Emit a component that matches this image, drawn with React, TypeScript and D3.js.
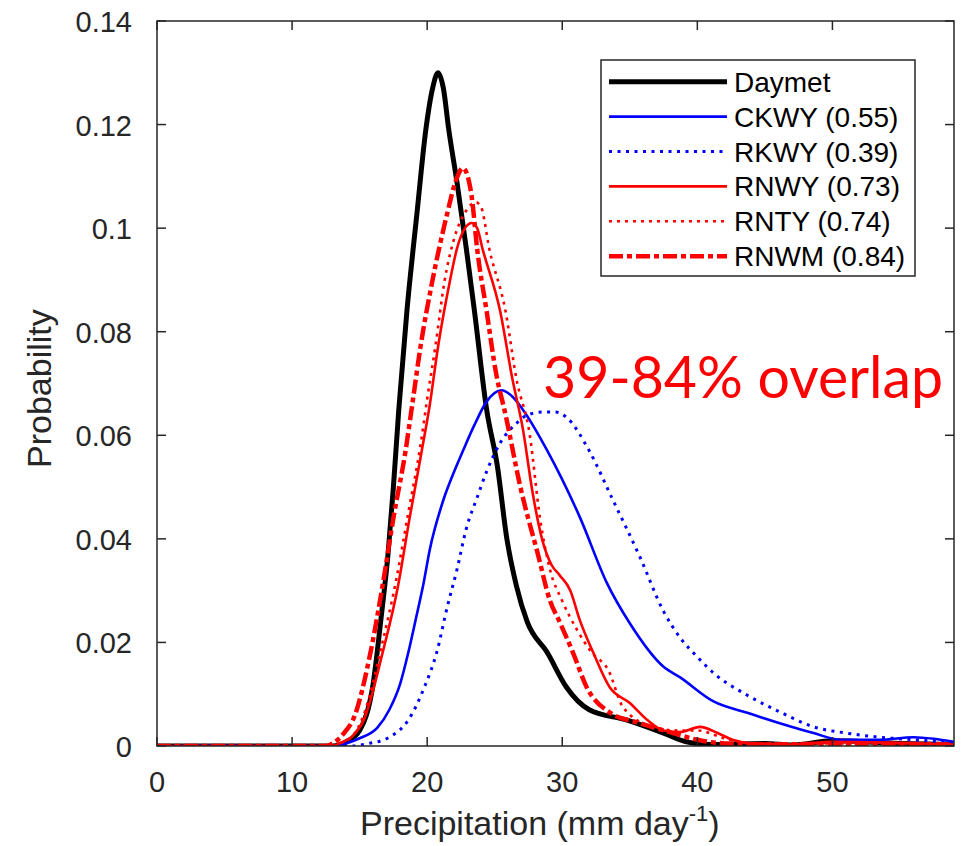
import React, { useEffect, useRef } from 'react';
import * as d3 from 'd3';

// precipitation (mm/day), probability
const daymet: [number, number][] = [
  [0, 0], [10, 0], [13, 0], [14, 0.0008], [15, 0.003], [16, 0.012], [16.6, 0.025], [17.1, 0.037],
  [17.5, 0.05], [17.9, 0.065], [18.5, 0.084], [19.25, 0.103], [19.9, 0.119], [20.4, 0.127],
  [20.8, 0.130], [21.2, 0.127], [21.6, 0.119], [22.2, 0.109], [22.9, 0.096], [23.5, 0.084],
  [24.4, 0.065], [25.2, 0.054], [25.9, 0.040], [26.6, 0.031], [27.4, 0.024], [28.9, 0.018],
  [30.3, 0.0114], [32, 0.007], [34.8, 0.005], [37.5, 0.0025], [39.2, 0.0008], [41, 0.0003],
  [45, 0.0005], [47, 0.0002], [50, 0.001], [55, 0.0005], [59, 0.0003]
];
const ckwy: [number, number][] = [
  [0, 0], [13.3, 0], [14, 0.0005], [15, 0.0015], [16.3, 0.0035], [17.2, 0.007], [18.0, 0.012],
  [18.6, 0.018], [19.2, 0.025], [19.7, 0.031], [20.2, 0.038], [21.2, 0.0475], [22.0, 0.053],
  [22.65, 0.057], [23.5, 0.062], [24.4, 0.0665], [25.5, 0.0687], [26.3, 0.0675], [27.1, 0.0649],
  [28.9, 0.057], [31.3, 0.0442], [33.3, 0.0315], [35, 0.0237], [37.5, 0.0153], [38.7, 0.0133],
  [41.2, 0.0086], [43.7, 0.0064], [46.1, 0.0044], [48.6, 0.0025], [50.6, 0.0012], [53.5, 0.0012],
  [56, 0.0017], [57.5, 0.0014], [59, 0.0008]
];
const rkwy: [number, number][] = [
  [0, 0], [14.5, 0], [15.5, 0.0004], [17.2, 0.0017], [18.6, 0.005], [19.8, 0.0114], [20.7, 0.018],
  [21.5, 0.027], [22.2, 0.034], [22.9, 0.042], [23.7, 0.048], [24.4, 0.053], [25.4, 0.0585],
  [26.6, 0.0623], [27.5, 0.064], [28.6, 0.0645], [29.5, 0.0645], [30.3, 0.0635], [32, 0.057],
  [33.75, 0.0475], [35.75, 0.0365], [37.5, 0.026], [38.7, 0.021], [40, 0.0172], [41.2, 0.0141],
  [43.7, 0.0098], [46.1, 0.0066], [48.6, 0.0037], [51, 0.0025], [53.5, 0.0017], [56, 0.0012],
  [59, 0.0006]
];
const rnwy: [number, number][] = [
  [0, 0], [13, 0], [13.5, 0.0005], [14.5, 0.002], [15.3, 0.005], [16.7, 0.018], [17.85, 0.031],
  [18.7, 0.044], [19.6, 0.057], [20.2, 0.066], [20.8, 0.077], [21.7, 0.090], [22.2, 0.096],
  [22.8, 0.100], [23.3, 0.101], [23.7, 0.100], [24.1, 0.096], [25.4, 0.084], [26.3, 0.071],
  [27.1, 0.061], [27.8, 0.049], [28.5, 0.040], [29.2, 0.035], [29.8, 0.033], [30.6, 0.030],
  [31.3, 0.0243], [32.3, 0.018], [33.5, 0.0114], [35, 0.0083], [36.3, 0.005], [37.5, 0.003],
  [38.7, 0.0027], [40.2, 0.0037], [41.5, 0.0025], [42.6, 0.0012], [44, 0.0005], [47, 0.0003],
  [50, 0.0008], [55, 0.0006], [59, 0.0003]
];
const rnty: [number, number][] = [
  [0, 0], [13, 0], [13.5, 0.0005], [14.5, 0.002], [15.3, 0.006], [16.6, 0.019], [17.7, 0.032],
  [18.6, 0.045], [19.5, 0.058], [20.0, 0.067], [20.6, 0.077], [21.3, 0.090], [22.0, 0.098],
  [22.8, 0.103], [23.6, 0.105], [24.0, 0.104], [24.6, 0.096], [25.8, 0.084], [26.6, 0.071],
  [27.6, 0.060], [28.35, 0.044], [29.1, 0.034], [30.0, 0.028], [31.1, 0.0224], [32.2, 0.018],
  [33.4, 0.0147], [34.5, 0.0075], [36.7, 0.0037], [38.5, 0.003], [40, 0.003], [42, 0.0015],
  [44, 0.0005], [50, 0.0005], [55, 0.0005], [59, 0.0003]
];
const rnwm: [number, number][] = [
  [0, 0], [12.5, 0], [13, 0.0005], [14, 0.003], [14.5, 0.005], [15.8, 0.018], [16.7, 0.031],
  [17.5, 0.044], [18.4, 0.057], [18.9, 0.066], [19.5, 0.077], [20.4, 0.090], [21.5, 0.103],
  [22.1, 0.109], [22.65, 0.1116], [23.0, 0.110], [23.3, 0.106], [23.7, 0.096], [24.4, 0.084],
  [25.1, 0.072], [25.8, 0.064], [26.9, 0.050], [28.2, 0.037], [29.1, 0.028], [29.8, 0.024],
  [30.8, 0.018], [31.8, 0.0114], [33.5, 0.0065], [35.75, 0.0044], [38.2, 0.0025], [40, 0.0012],
  [42, 0.0005], [45, 0.0003], [50, 0.0004], [55, 0.0004], [59, 0.0003]
];

const seriesNames = ['Daymet', 'CKWY (0.55)', 'RKWY (0.39)', 'RNWY (0.73)', 'RNTY (0.74)', 'RNWM (0.84)'];
const seriesData = [daymet, ckwy, rkwy, rnwy, rnty, rnwm];

const xTicks = [0, 10, 20, 30, 40, 50];
const yTicks = [0, 0.02, 0.04, 0.06, 0.08, 0.1, 0.12, 0.14];
const yTickLabels = ['0', '0.02', '0.04', '0.06', '0.08', '0.1', '0.12', '0.14'];

const styles = [
  { color: '#000000', width: 5, dash: null },
  { color: '#0000ff', width: 2.6, dash: null },
  { color: '#0000ff', width: 3, dash: '3,5.5' },
  { color: '#ff0000', width: 2.6, dash: null },
  { color: '#ff0000', width: 2.6, dash: '3,5' },
  { color: '#ff0000', width: 4.5, dash: '14,4,5,4' }
];

const FONT = '"Liberation Sans", Arial, Helvetica, sans-serif';
const AXIS = '#262626';

export default function App() {
  const svgRef = useRef<SVGSVGElement>(null);

  useEffect(() => {
    const svg = d3.select(svgRef.current);
    svg.selectAll('*').remove();

    const left = 157, right = 954, top = 21, bottom = 746;
    const x = d3.scaleLinear().domain([0, 59]).range([left, right]);
    const y = d3.scaleLinear().domain([0, 0.14]).range([bottom, top]);

    svg.append('defs').append('clipPath').attr('id', 'plotclip')
      .append('rect')
      .attr('x', left).attr('y', top - 5)
      .attr('width', right - left).attr('height', bottom - top + 5);

    const line = d3.line<[number, number]>()
      .x(d => x(d[0]))
      .y(d => y(d[1]))
      .curve(d3.curveMonotoneX);

    const plot = svg.append('g').attr('clip-path', 'url(#plotclip)');
    seriesData.forEach((data, i) => {
      const s = styles[i];
      plot.append('path')
        .datum(data)
        .attr('fill', 'none')
        .attr('stroke', s.color)
        .attr('stroke-width', s.width)
        .attr('stroke-linejoin', 'round')
        .attr('stroke-dasharray', s.dash)
        .attr('d', line);
    });

    // box + inward ticks
    svg.append('rect')
      .attr('x', left).attr('y', top)
      .attr('width', right - left).attr('height', bottom - top)
      .attr('fill', 'none').attr('stroke', AXIS).attr('stroke-width', 1.5);

    const tickLen = 9;
    xTicks.forEach(t => {
      svg.append('line').attr('x1', x(t)).attr('x2', x(t)).attr('y1', bottom).attr('y2', bottom - tickLen)
        .attr('stroke', AXIS).attr('stroke-width', 1.5);
      svg.append('line').attr('x1', x(t)).attr('x2', x(t)).attr('y1', top).attr('y2', top + tickLen)
        .attr('stroke', AXIS).attr('stroke-width', 1.5);
      svg.append('text')
        .attr('x', x(t)).attr('y', 792)
        .attr('text-anchor', 'middle')
        .attr('font-family', FONT).attr('font-size', 29).attr('fill', AXIS)
        .text(t);
    });
    yTicks.forEach((t, i) => {
      svg.append('line').attr('x1', left).attr('x2', left + tickLen).attr('y1', y(t)).attr('y2', y(t))
        .attr('stroke', AXIS).attr('stroke-width', 1.5);
      svg.append('line').attr('x1', right).attr('x2', right - tickLen).attr('y1', y(t)).attr('y2', y(t))
        .attr('stroke', AXIS).attr('stroke-width', 1.5);
      svg.append('text')
        .attr('x', 132).attr('y', y(t) + 11)
        .attr('text-anchor', 'end')
        .attr('font-family', FONT).attr('font-size', 29).attr('fill', AXIS)
        .text(yTickLabels[i]);
    });

    // axis titles
    const xt = svg.append('text')
      .attr('x', 360).attr('y', 835)
      .attr('font-family', FONT).attr('font-size', 34).attr('fill', AXIS);
    xt.append('tspan').text('Precipitation (mm day');
    xt.append('tspan').attr('dy', -14).attr('font-size', 22).text('-1');
    xt.append('tspan').attr('dy', 14).text(')');

    svg.append('text')
      .attr('transform', 'translate(51, 468) rotate(-90)')
      .attr('font-family', FONT).attr('font-size', 34).attr('fill', AXIS)
      .text('Probability');

    // legend
    const lg = svg.append('g');
    lg.append('rect')
      .attr('x', 601).attr('y', 60).attr('width', 314).attr('height', 216)
      .attr('fill', '#ffffff').attr('stroke', AXIS).attr('stroke-width', 1.5);
    seriesNames.forEach((name, i) => {
      const ry = 81.7 + i * 34.9;
      const s = styles[i];
      lg.append('line')
        .attr('x1', 609).attr('x2', 727).attr('y1', ry).attr('y2', ry)
        .attr('stroke', s.color).attr('stroke-width', s.width)
        .attr('stroke-dasharray', s.dash);
      lg.append('text')
        .attr('x', 734).attr('y', ry + 10)
        .attr('font-family', FONT).attr('font-size', 28).attr('fill', '#000000')
        .text(name);
    });

    // annotation
    svg.append('text')
      .attr('x', 543).attr('y', 398)
      .attr('font-family', 'Lato, "Open Sans", sans-serif').attr('font-size', 58)
      .attr('fill', '#ff0000')
      .attr('textLength', 400).attr('lengthAdjust', 'spacingAndGlyphs')
      .text('39-84% overlap');
  }, []);

  return (
    <div style={{ position: 'absolute', left: 0, top: 0 }}>
      <svg ref={svgRef} width={965} height={846} style={{ display: 'block', background: '#fff' }}></svg>
    </div>
  );
}
